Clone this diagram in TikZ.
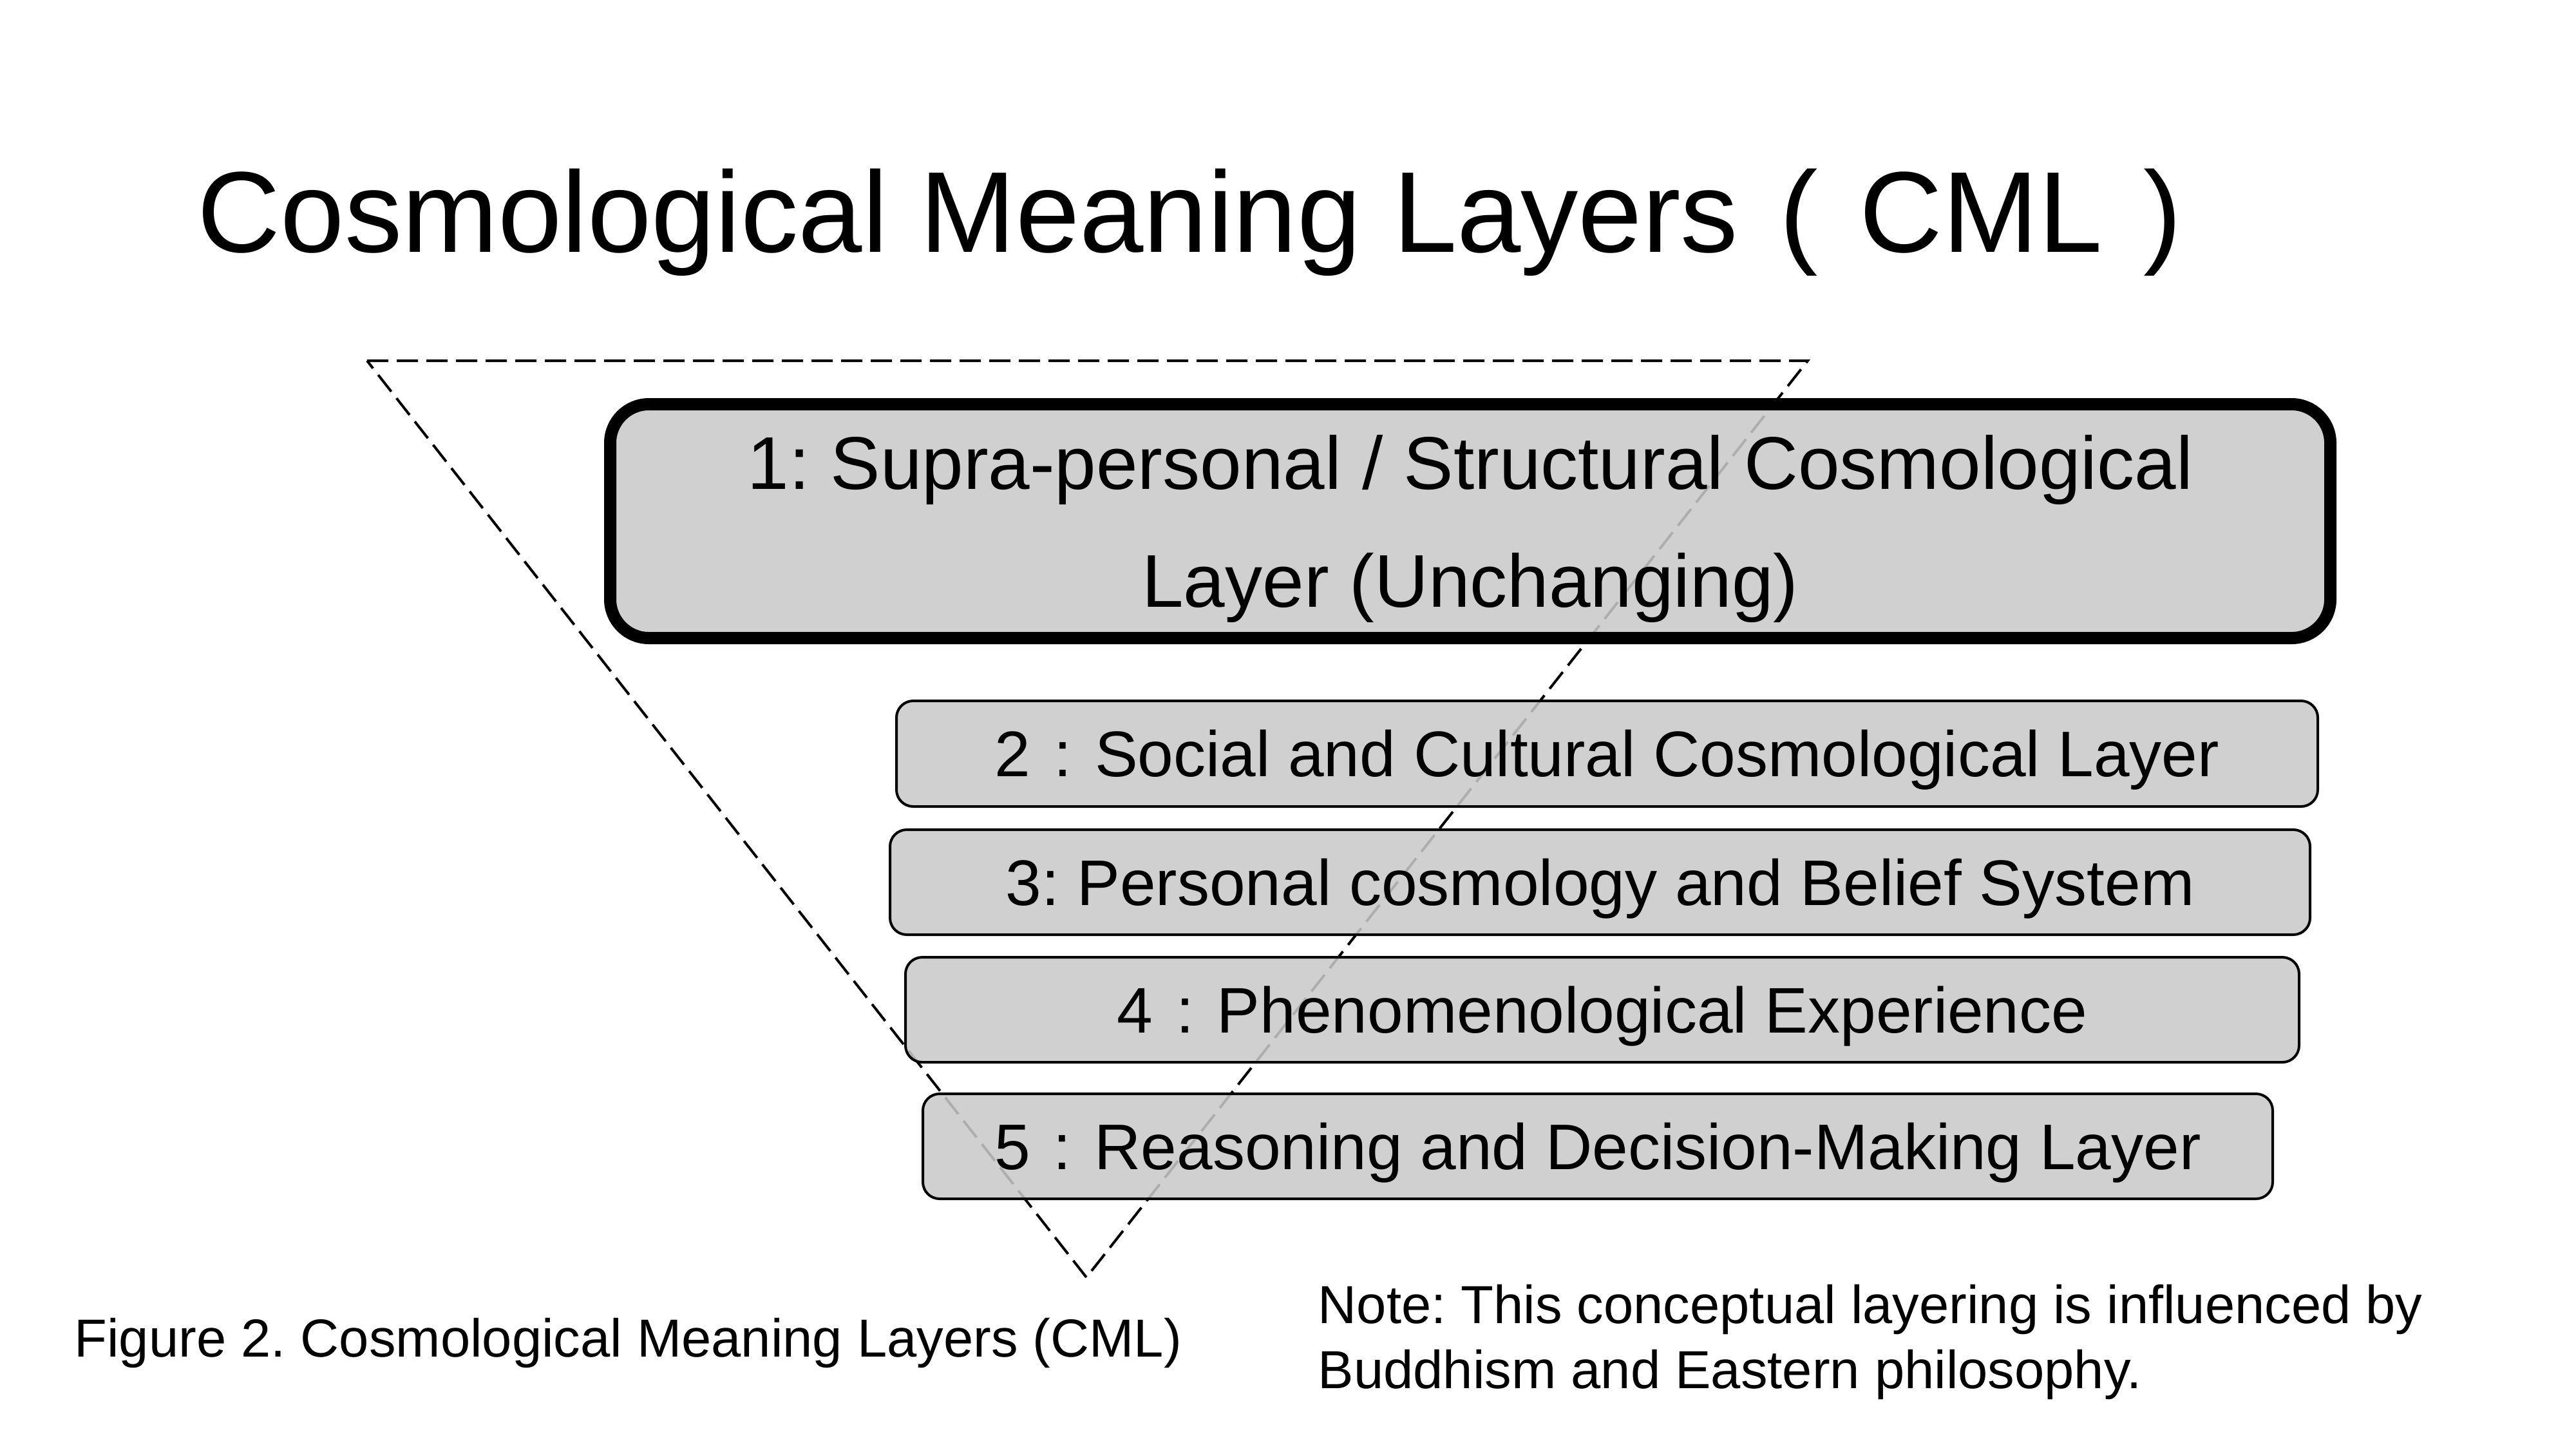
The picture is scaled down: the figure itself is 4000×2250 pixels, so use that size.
\documentclass[tikz,border=0pt]{standalone}
\usepackage{fontspec}
\setmainfont{Liberation Sans}
\frenchspacing
\newlength\unitpx
\setlength\unitpx{0.01cm}
% a colon spaced out to a full em, as in "2 : Social"
\newcommand\widecolon{\hspace{0.36em}:\hspace{0.36em}}
\begin{document}
\begin{tikzpicture}[x=0.01cm, y=-0.01cm,
  layerbox/.style={draw=black, line width=4\unitpx, rounded corners=26\unitpx,
    fill=black!21, fill opacity=0.87, text opacity=1, inner sep=0pt,
    text height=20.4pt, text depth=0pt, font=\fontsize{28.45}{34}\selectfont},
  toplayerbox/.style={layerbox, line width=19\unitpx, rounded corners=60\unitpx},
  funnel/.style={draw=black, line width=4\unitpx, dash pattern=on 33\unitpx off 13\unitpx},
  plain/.style={inner sep=0pt, text=black}
]
\useasboundingbox (0,0) rectangle (4000,2250);

% dashed inverted triangle behind the layers
\coordinate (tl) at (570,560);
\coordinate (tr) at (2807,560);
\coordinate (apex) at (1687,1983);
\draw[funnel] (tl) -- (tr) -- (apex) -- cycle;

% heading
\node[plain, anchor=base west, font=\fontsize{50.8}{61}\selectfont] (title) at (306,391)
  {Cosmological Meaning Layers\hspace{0.36em}(\hspace{0.36em}CML\hspace{0.36em})};

% layer 1
\node[toplayerbox, minimum width=2671\unitpx, minimum height=363\unitpx] (l1) at (2283,809) {};
\node[plain, anchor=base, align=center, font=\fontsize{33}{51.8}\selectfont] (l1text) at (2283,942)
  {1: Supra-personal / Structural Cosmological\\Layer (Unchanging)};

% layers 2-5
\node[layerbox, minimum width=2207\unitpx, minimum height=164\unitpx] (l2) at (2495.5,1170)
  {2\widecolon Social and Cultural Cosmological Layer};
\node[layerbox, minimum width=2205\unitpx, minimum height=163\unitpx] (l3) at (2484.5,1369.5)
  {3: Personal cosmology and Belief System};
\node[layerbox, minimum width=2164\unitpx, minimum height=163\unitpx] (l4) at (2488,1567.5)
  {4\widecolon Phenomenological Experience};
\node[layerbox, minimum width=2096\unitpx, minimum height=163\unitpx] (l5) at (2481,1779.5)
  {5\widecolon Reasoning and Decision-Making Layer};

% caption and note
\node[plain, anchor=base west, font=\fontsize{23.65}{28}\selectfont] (caption) at (115,2106)
  {Figure 2. Cosmological Meaning Layers (CML)};
\node[plain, anchor=base west, align=left, font=\fontsize{23.65}{28.45}\selectfont] (note) at (2046,2155)
  {Note: This conceptual layering is influenced by\\Buddhism and Eastern philosophy.};
\end{tikzpicture}
\end{document}
